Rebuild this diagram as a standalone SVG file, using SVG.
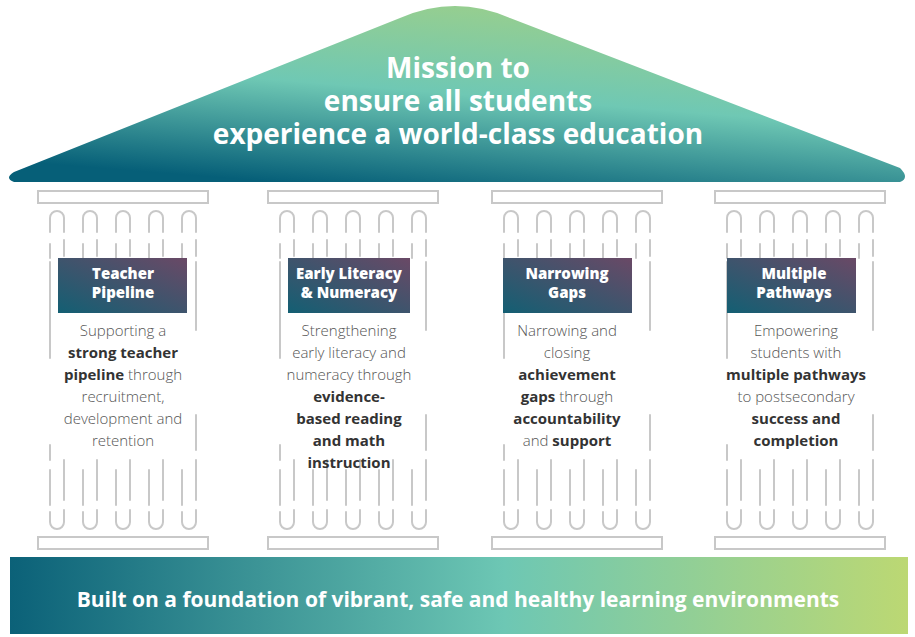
<svg xmlns="http://www.w3.org/2000/svg" xmlns:xlink="http://www.w3.org/1999/xlink" width="915" height="637" viewBox="0 0 915 637">
<style>
.cap{fill:#fff;stroke:#c8c8c8;stroke-width:2}
.fl{fill:none;stroke:#c8c8c8;stroke-width:2;stroke-linecap:round}
.lab{font-family:"Open Sans",sans-serif;font-weight:800;font-size:15px;fill:#fff;text-anchor:middle}
.body{font-family:"Open Sans",sans-serif;font-weight:300;font-size:15px;fill:#555;text-anchor:middle}
.body tspan.b{font-weight:700;fill:#333}
.title{font-family:"Open Sans",sans-serif;font-weight:700;font-size:28px;fill:#fff;text-anchor:middle}
</style>
<defs>
<linearGradient id="roof" x1="0.3" y1="1" x2="0.7" y2="0">
<stop offset="0" stop-color="#065f78"/><stop offset="0.5" stop-color="#6fc8b4"/><stop offset="1" stop-color="#9ccf8a"/>
</linearGradient>
<linearGradient id="base" x1="0" y1="0" x2="1" y2="0">
<stop offset="0" stop-color="#0b6178"/><stop offset="0.55" stop-color="#6dc7b4"/><stop offset="1" stop-color="#bcd873"/>
</linearGradient>
<linearGradient id="box" x1="0" y1="1" x2="1" y2="0">
<stop offset="0" stop-color="#135f73"/><stop offset="1" stop-color="#6a4966"/>
</linearGradient>
<g id="pillar">
<rect class="cap" x="0" y="191" width="170" height="12"/>
<rect class="cap" x="0" y="537" width="170" height="12"/>
<g id="flute" class="fl">
<path d="M12,232 V218 A7,7 0 0 1 26,218 V232"/>
<path d="M12,244 V258 M26,240 V256"/>
<path d="M12,470 V505 M26,460 V500"/>
<path d="M12,512 V522 A7,7 0 0 0 26,522 V510"/>
</g>
<use xlink:href="#flute" x="33"/>
<use xlink:href="#flute" x="66"/>
<use xlink:href="#flute" x="99"/>
<use xlink:href="#flute" x="132"/>
<path class="fl" d="M12,262 V358 M12,445 V460 M158,262 V330 M158,415 V450 M158,470 V480"/>
</g>
</defs>
<g id="roof-node">
<path d="M14,172 L400,18 Q455,-6 510,18 L900,168 Q910,178 900,182 L14,182 Q4,178 14,172 Z" fill="url(#roof)"/>
<text class="title" x="458" y="78">Mission to</text>
<text class="title" x="458" y="111">ensure all students</text>
<text class="title" x="458" y="144">experience a world-class education</text>
</g>
<g id="p1">
<use xlink:href="#pillar" x="38"/>
<rect x="58" y="258" width="129" height="55" fill="url(#box)"/>
<text class="lab" x="123" y="279">Teacher</text><text class="lab" x="123" y="298">Pipeline</text>
<text class="body" x="123" y="336">Supporting a</text>
<text class="body" x="123" y="358"><tspan class="b">strong teacher</tspan></text>
<text class="body" x="123" y="380"><tspan class="b">pipeline</tspan> through</text>
<text class="body" x="123" y="402">recruitment,</text>
<text class="body" x="123" y="424">development and</text>
<text class="body" x="123" y="446">retention</text>
</g>
<g id="p2">
<use xlink:href="#pillar" x="268"/>
<rect x="288" y="258" width="122" height="55" fill="url(#box)"/>
<text class="lab" x="349" y="279">Early Literacy</text><text class="lab" x="349" y="298">&amp; Numeracy</text>
<text class="body" x="349" y="336">Strengthening</text>
<text class="body" x="349" y="358">early literacy and</text>
<text class="body" x="349" y="380">numeracy through</text>
<text class="body" x="349" y="402"><tspan class="b">evidence-</tspan></text>
<text class="body" x="349" y="424"><tspan class="b">based reading</tspan></text>
<text class="body" x="349" y="446"><tspan class="b">and math</tspan></text>
<text class="body" x="349" y="468"><tspan class="b">instruction</tspan></text>
</g>
<g id="p3">
<use xlink:href="#pillar" x="492"/>
<rect x="503" y="258" width="129" height="55" fill="url(#box)"/>
<text class="lab" x="567" y="279">Narrowing</text><text class="lab" x="567" y="298">Gaps</text>
<text class="body" x="567" y="336">Narrowing and</text>
<text class="body" x="567" y="358">closing</text>
<text class="body" x="567" y="380"><tspan class="b">achievement</tspan></text>
<text class="body" x="567" y="402"><tspan class="b">gaps</tspan> through</text>
<text class="body" x="567" y="424"><tspan class="b">accountability</tspan></text>
<text class="body" x="567" y="446">and <tspan class="b">support</tspan></text>
</g>
<g id="p4">
<use xlink:href="#pillar" x="715"/>
<rect x="727" y="258" width="129" height="55" fill="url(#box)"/>
<text class="lab" x="794" y="279">Multiple</text><text class="lab" x="794" y="298">Pathways</text>
<text class="body" x="796" y="336">Empowering</text>
<text class="body" x="796" y="358">students with</text>
<text class="body" x="796" y="380"><tspan class="b">multiple pathways</tspan></text>
<text class="body" x="796" y="402">to postsecondary</text>
<text class="body" x="796" y="424"><tspan class="b">success and</tspan></text>
<text class="body" x="796" y="446"><tspan class="b">completion</tspan></text>
</g>
<g id="foundation">
<rect x="10" y="557" width="898" height="77" fill="url(#base)"/>
<text class="title" x="458" y="607" style="font-size:21px">Built on a foundation of vibrant, safe and healthy learning environments</text>
</g>
<g id="connectors"/>
</svg>
